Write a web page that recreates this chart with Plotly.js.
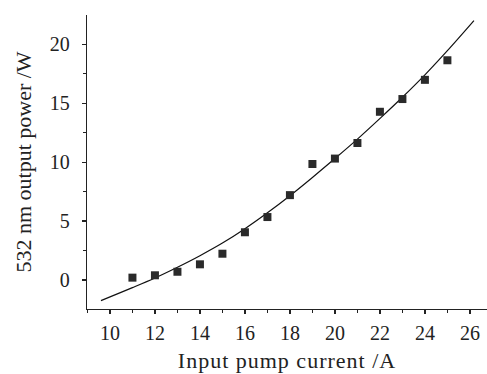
<!DOCTYPE html>
<html>
<head>
<meta charset="utf-8">
<script src="https://cdn.plot.ly/plotly-3.0.1.min.js"></script>
<style>
html,body{margin:0;padding:0;background:#fff;}
#chart{width:487px;height:374px;}
#chart .xtitle{letter-spacing:1px;}
</style>
</head>
<body>
<div id="chart"></div>
<script>
// Measured data points
const currentA = [11, 12, 13, 14, 15, 16, 17, 18, 19, 20, 21, 22, 23, 24, 25];
const powerW = [0.2, 0.4, 0.7, 1.33, 2.23, 4.05, 5.34, 7.2, 9.84, 10.3, 11.62, 14.27, 15.35, 16.98, 18.64];
// Fitted curve
const fitX = [9.6, 11, 12, 13, 14, 15, 16, 17, 18, 19, 20, 21, 22, 23, 24, 25, 26.18];
const fitY = [-1.75, -0.65, 0.17, 1.08, 2.06, 3.13, 4.35, 5.7, 7.15, 8.7, 10.3, 11.95, 13.7, 15.5, 17.4, 19.45, 22.0];
const xTicks = [10, 12, 14, 16, 18, 20, 22, 24, 26];
const yTicks = [0, 5, 10, 15, 20];

const font = {family: '"Liberation Serif", "Times New Roman", serif', color: '#222', size: 20};

const traces = [
  {x: fitX, y: fitY, mode: 'lines', line: {color: '#111', width: 1.2, shape: 'spline', smoothing: 1}, hoverinfo: 'skip'},
  {x: currentA, y: powerW, mode: 'markers', marker: {symbol: 'square', size: 8, color: '#2a2a2a', line: {width: 0}}}
];

const layout = {
  width: 487, height: 374,
  margin: {l: 87, r: 0, t: 15, b: 65},
  paper_bgcolor: '#fff', plot_bgcolor: '#fff',
  showlegend: false,
  font: font,
  xaxis: {
    range: [8.98, 26.76], tickvals: xTicks, ticktext: xTicks.map(String),
    ticks: 'outside', ticklen: 4, tickwidth: 1.2, tickcolor: '#222',
    minor: {dtick: 1, tick0: 0, ticks: 'outside', ticklen: 2.5, tickwidth: 1, tickcolor: '#222'},
    showline: true, linecolor: '#222', linewidth: 1.2, showgrid: false, zeroline: false,
    tickfont: {size: 20}, ticklabelstandoff: 2,
    title: {text: 'Input pump current /A', font: {size: 22}, standoff: 9}
  },
  yaxis: {
    range: [-2.46, 22.48], tickvals: yTicks, ticktext: yTicks.map(String),
    ticks: 'outside', ticklen: 4, tickwidth: 1.2, tickcolor: '#222',
    minor: {dtick: 2.5, tick0: 0, ticks: 'outside', ticklen: 2.5, tickwidth: 1, tickcolor: '#222'},
    showline: true, linecolor: '#222', linewidth: 1.2, showgrid: false, zeroline: false,
    tickfont: {size: 20}, ticklabelstandoff: 8,
    title: {text: '532 nm output power /W', font: {size: 22}, standoff: 12}
  }
};

Plotly.newPlot('chart', traces, layout, {displayModeBar: false, staticPlot: true});
</script>
</body>
</html>
